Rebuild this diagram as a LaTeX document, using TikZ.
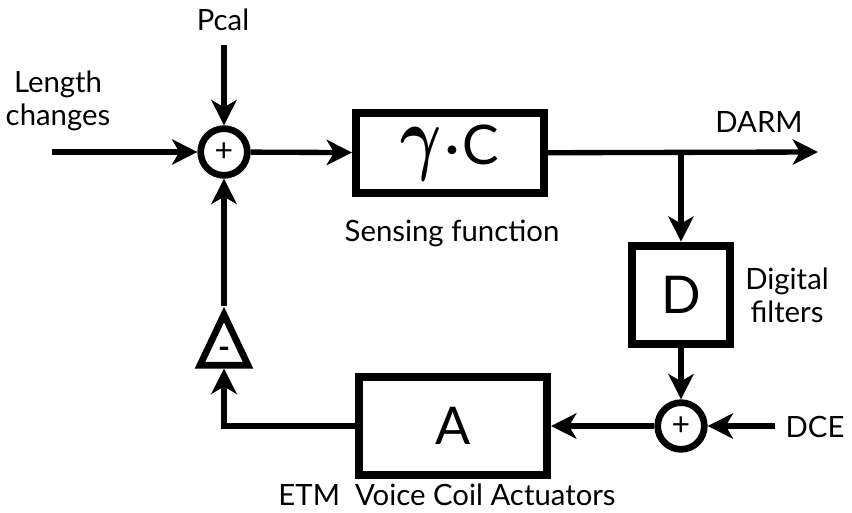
\documentclass[tikz,border=0pt]{standalone}
\usepackage{fontspec}
\setmainfont{Lato}
\usepackage{bm}
\usepackage{graphicx}
\usepackage{tikz}
\usetikzlibrary{arrows.meta, positioning, shapes.geometric, calc}

\begin{document}
\begin{tikzpicture}[x=0.75pt, y=-0.75pt,
  blk/.style={draw, line width=6pt, minimum width=141pt, minimum height=60pt, font=\fontsize{39}{40}\selectfont},
  sumnode/.style={draw, circle, line width=5pt, minimum size=35pt, inner sep=0pt, font=\fontsize{24}{24}\selectfont},
  sig/.style={line width=4pt, -{Stealth[length=19pt, width=19pt, inset=5.5pt]}},
  lbl/.style={font=\fontsize{22}{25}\selectfont, align=center}]
\useasboundingbox (0,0) rectangle (852,513);
% summing points
\foreach \name/\x/\y in {sum1/224/152, sum2/681/426}
  \node[sumnode] (\name) at (\x,\y) {+};
% blocks
\node[blk] (gc) at (450,153) {\scalebox{1.9}[2.5]{$\bm{\gamma}$}\hspace{1pt}\scalebox{1.7}{$\bm{\cdot}$}\hspace{1pt}{\fontsize{41}{42}\selectfont C}};
\node[blk, minimum width=74pt, minimum height=74pt] (D) at (681,295) {D};
\node[blk, minimum height=73pt] (A) at (453,426) {A};
\node[draw, isosceles triangle, shape border rotate=90, isosceles triangle stretches, line width=5pt,
  minimum width=36pt, minimum height=38pt, inner sep=0pt] (tri) at (224,350) {};
\node[font=\fontsize{24}{24}\selectfont\bfseries] at (224,353) {-};
% labels
\node[lbl] (pcal) at (223,20) {Pcal};
\node[lbl] (len) at (58,101) {Length\\changes};
\node[lbl] (darm) at (759,122) {DARM};
\node[lbl] (dce) at (815,427) {DCE};
\node[lbl] (sens) at (452,233) {Sensing function};
\node[lbl] (filt) at (787,295) {Digital\\filters};
\node[lbl] (act) at (447,495) {ETM\ \ Voice Coil Actuators};
% inputs and outputs
\coordinate (pcalin) at (224,45);
\coordinate (lenin) at (52,152);
\coordinate (darmout) at (818,152);
\coordinate (tap) at (681,152);
\coordinate (dcein) at (775,426);
% signal lines
\draw[sig] (pcalin) -- (sum1);
\draw[sig] (lenin) -- (sum1);
\draw[sig] (sum1) -- (gc);
\draw[sig] (gc) -- (darmout);
\draw[sig] (tap) -- (D);
\draw[sig] (D) -- (sum2);
\draw[sig] (dcein) -- (sum2);
\draw[sig] (sum2) -- (A);
\draw[sig] (A.west) -| (tri.lower side);
\draw[sig] (tri.apex) -- (sum1);
\end{tikzpicture}
\end{document}
